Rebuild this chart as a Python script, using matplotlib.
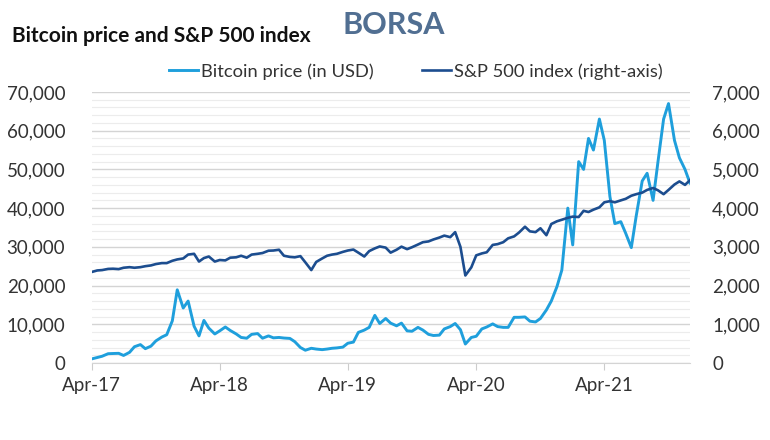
import numpy as np
import pandas as pd
import matplotlib
matplotlib.use("Agg")
import matplotlib.pyplot as plt
import matplotlib.dates as mdates
from matplotlib.ticker import FuncFormatter, MultipleLocator

plt.rcParams['font.family'] = ['Lato', 'DejaVu Sans']

# semi-monthly samples, Apr-17 .. Dec-21
dates = pd.date_range("2017-04-15", "2021-12-15", freq="SMS")

btc_2017 = [1050, 1420, 1750, 2400, 2450, 2500, 1950, 2750, 4200, 4750, 3700,
            4350, 5700, 6700, 7300, 10900, 18900]
btc_2018 = [14200, 16000, 9500, 7000, 11000, 9000, 7500, 8300, 9300, 8400, 7500, 6600,
            6400, 7400, 7600, 6400, 7000, 6500, 6600, 6450, 6350, 5500, 4000, 3300]
btc_2019 = [3800, 3600, 3450, 3600, 3800, 3900, 4100, 5100, 5400, 7900, 8500, 9200,
            12300, 10200, 11500, 10300, 9600, 10300, 8300, 8200, 9200, 8500, 7400, 7100]
btc_2020 = [7200, 8800, 9400, 10200, 8600, 4900, 6600, 6900, 8800, 9300, 10100, 9400,
            9200, 9200, 11800, 11800, 11900, 10800, 10600, 11500, 13700, 16000, 19700, 24000]
btc_2021 = [40000, 30500, 52000, 50000, 58000, 55000, 63000, 57500, 43000, 36000, 36500, 33500,
            29800, 38000, 47000, 49000, 42000, 52000, 63000, 67000, 57500, 53000, 50000, 46500]
bitcoin = btc_2017 + btc_2018 + btc_2019 + btc_2020 + btc_2021

spx_2017 = [2350, 2390, 2400, 2430, 2435, 2425, 2460, 2475, 2460, 2475, 2500,
            2520, 2555, 2580, 2580, 2640, 2675]
spx_2018 = [2700, 2800, 2820, 2620, 2710, 2750, 2620, 2660, 2650, 2720, 2730, 2770,
            2720, 2800, 2820, 2840, 2900, 2905, 2925, 2770, 2740, 2730, 2760, 2600]
spx_2019 = [2400, 2610, 2700, 2770, 2800, 2820, 2870, 2905, 2930, 2850, 2750, 2890,
            2960, 3010, 2980, 2850, 2925, 3005, 2940, 2990, 3060, 3120, 3140, 3190]
spx_2020 = [3240, 3290, 3250, 3380, 3000, 2260, 2470, 2780, 2830, 2860, 3050, 3070,
            3120, 3220, 3270, 3370, 3520, 3400, 3380, 3480, 3300, 3590, 3660, 3700]
spx_2021 = [3750, 3780, 3770, 3930, 3900, 3960, 4020, 4150, 4180, 4150, 4200, 4240,
            4320, 4360, 4400, 4470, 4520, 4460, 4360, 4470, 4610, 4690, 4600, 4720]
sp500 = spx_2017 + spx_2018 + spx_2019 + spx_2020 + spx_2021

btc_color = "#1f9fdc"
spx_color = "#1c4d8f"
txt_color = "#333333"

fig = plt.figure(figsize=(7.7, 4.4), dpi=100)
ax = fig.add_axes([0.119, 0.175, 0.777, 0.616])
ax2 = ax.twinx()

l1, = ax.plot(dates, bitcoin, color=btc_color, lw=2.1, label="Bitcoin price (in USD)")
l2, = ax2.plot(dates, sp500, color=spx_color, lw=1.9, label="S&P 500 index (right-axis)")

ax.set_xlim(dates[0], dates[-1])
ax.set_ylim(0, 70000)
ax2.set_ylim(0, 7000)
ax.yaxis.set_major_locator(MultipleLocator(10000))
ax.yaxis.set_minor_locator(MultipleLocator(2000))
ax2.yaxis.set_major_locator(MultipleLocator(1000))
ax.yaxis.set_major_formatter(FuncFormatter(lambda v, p: f"{v:,.0f}"))
ax2.yaxis.set_major_formatter(FuncFormatter(lambda v, p: f"{v:,.0f}"))

ax.grid(axis="y", which="major", color="#d4d4d4", lw=1.0)
ax.grid(axis="y", which="minor", color="#ececec", lw=0.8)
ax.set_axisbelow(True)

ticks = [d for d in dates if d.month == 4 and d.day == 15]
ax.set_xticks(ticks)
ax.xaxis.set_major_formatter(mdates.DateFormatter("%b-%y"))

for a in (ax, ax2):
    for s in a.spines.values():
        s.set_visible(False)
ax.spines["bottom"].set_visible(True)
ax.spines["bottom"].set_color("#d4d4d4")

ax.tick_params(axis="x", length=5, color="#cccccc", labelsize=13.5, labelcolor=txt_color, pad=5)
ax.tick_params(axis="y", which="both", length=0, labelsize=13.5, labelcolor=txt_color, pad=19)
ax2.tick_params(axis="y", length=0, labelsize=13.5, labelcolor=txt_color, pad=16)

fig.legend(handles=[l1, l2], loc="center", bbox_to_anchor=(0.54, 0.838), ncol=2,
           frameon=False, fontsize=13.2, handlelength=1.6, handletextpad=0.15,
           columnspacing=2.6, labelcolor=txt_color)

fig.text(0.016, 0.918, "Bitcoin price and S&P 500 index", fontsize=15, fontweight="bold",
         color="#111111", va="center")
fig.text(0.445, 0.943, "BORSA", fontsize=22, fontweight="bold", color="#3e5f86",
         va="center", alpha=0.9)

fig.savefig("out.png", dpi=100)
